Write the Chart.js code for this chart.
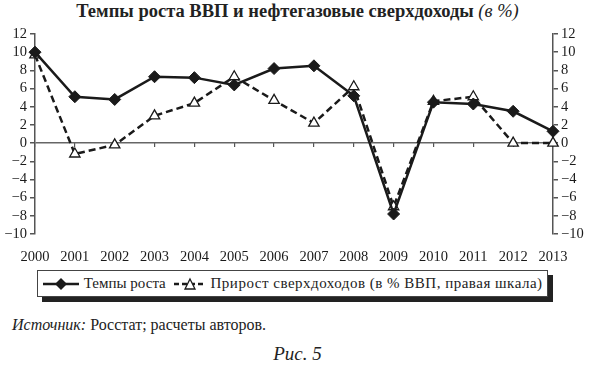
<!DOCTYPE html>
<html>
<head>
<meta charset="utf-8">
<script src="https://cdn.jsdelivr.net/npm/chart.js@4"></script>
<style>
  body { margin: 0; width: 595px; height: 367px; background: #fff; position: relative; font-family: "Liberation Serif", serif; color: #222; overflow: hidden; }
  #title { position: absolute; top: 1px; left: 0; width: 595px; text-align: center; font-size: 18.5px; font-weight: bold; }
  #title i { font-weight: normal; }
  #wrap { position: absolute; top: 0; left: 0; width: 595px; height: 262px; }
  #legend { position: absolute; left: 37px; top: 270px; width: 509px; height: 25px; border: 1px solid #444; box-shadow: 5px 5px 0 #222; font-size: 15px; display: flex; align-items: center; background: #fff; white-space: nowrap; }
  #legend span { display: inline-flex; align-items: center; white-space: nowrap; }
  #source { position: absolute; left: 12px; top: 316px; font-size: 16px; }
  #fig { position: absolute; left: 0; width: 595px; top: 343px; text-align: center; font-size: 19px; font-style: italic; }
</style>
</head>
<body>
<div id="title">Темпы роста ВВП и нефтегазовые сверхдоходы <i>(в %)</i></div>
<div id="wrap"><canvas id="chart" width="595" height="262"></canvas></div>
<div id="legend">
  <span style="margin-left:4px"><svg width="38" height="14"><line x1="1" y1="7" x2="37" y2="7" stroke="#1a1a1a" stroke-width="2.5"/><polygon points="19,1 25,7 19,13 13,7" fill="#1a1a1a"/></svg>&nbsp;Темпы роста</span>
  <span style="margin-left:7px"><svg width="34" height="14"><line x1="1" y1="7" x2="33" y2="7" stroke="#1a1a1a" stroke-width="2.5" stroke-dasharray="5,3"/><polygon points="17,2 22,12 12,12" fill="#fff" stroke="#1a1a1a" stroke-width="1.3"/></svg>&nbsp;<span style="letter-spacing:0.5px">Прирост сверхдоходов (в % ВВП, правая шкала)</span></span>
</div>
<div id="source"><i>Источник:</i> Росстат; расчеты авторов.</div>
<div id="fig">Рис. 5</div>
<script>
const years = ['2000', '2001', '2002', '2003', '2004', '2005', '2006', '2007', '2008', '2009', '2010', '2011', '2012', '2013'];
const gdpGrowth = [10.0, 5.1, 4.8, 7.3, 7.2, 6.4, 8.2, 8.5, 5.2, -7.8, 4.5, 4.3, 3.5, 1.3];
const windfallGain = [9.7, -1.2, -0.2, 3.0, 4.4, 7.3, 4.7, 2.2, 6.2, -7.0, 4.6, 5.1, 0.0, 0.0];
const yMin = -10, yMax = 12, yStep = 2;

const ink = '#1a1a1a';
const axisColor = '#555';
const tickFont = { family: 'Liberation Serif', size: 14.5 };

function minusLabel(v) {
    return String(v).replace('-', '\u2212');
}

function yScale(pos) {
    return {
        position: pos,
        min: yMin,
        max: yMax,
        afterFit: s => { s.width = pos === 'left' ? 35 : 42; },
        border: { display: true, color: axisColor, width: 1.5 },
        grid: {
            drawOnChartArea: pos === 'left',
            color: c => (c.tick && c.tick.value === 0) ? '#666' : 'rgba(0,0,0,0)',
            lineWidth: 1.5,
            drawTicks: true,
            tickLength: 5,
            tickColor: axisColor
        },
        ticks: { stepSize: yStep, autoSkip: false, color: ink, font: tickFont, padding: 3, callback: minusLabel }
    };
}

const config = {
    type: 'line',
    data: {
        labels: years,
        datasets: [
            {
                label: 'Темпы роста',
                data: gdpGrowth,
                yAxisID: 'y',
                borderColor: ink,
                backgroundColor: ink,
                borderWidth: 2.5,
                pointStyle: 'rectRot',
                pointRadius: 6,
                pointBorderWidth: 1,
                tension: 0
            },
            {
                label: 'Прирост сверхдоходов (в % ВВП, правая шкала)',
                data: windfallGain,
                yAxisID: 'y1',
                borderColor: ink,
                backgroundColor: '#fff',
                borderWidth: 2.5,
                borderDash: [7, 4],
                pointStyle: 'triangle',
                pointRadius: 6,
                pointBorderWidth: 1.3,
                tension: 0
            }
        ]
    },
    options: {
        responsive: false,
        animation: false,
        layout: { padding: { top: 34, left: 0, right: 0, bottom: 0 } },
        plugins: { legend: { display: false }, title: { display: false }, tooltip: { enabled: false } },
        scales: {
            x: {
                offset: false,
                afterFit: s => { s.height = 28; },
                border: { display: false },
                grid: { display: false },
                ticks: { color: ink, font: tickFont, padding: 6, maxRotation: 0, autoSkip: false }
            },
            xZero: {
                type: 'category',
                offset: false,
                position: { y: 0 },
                border: { display: false },
                grid: { drawOnChartArea: false, drawTicks: true, tickLength: 4, color: axisColor, lineWidth: 1.2 },
                ticks: { display: false }
            },
            y: yScale('left'),
            y1: yScale('right')
        }
    }
};

const myChart = new Chart(document.getElementById('chart'), config);
</script>
</body>
</html>
